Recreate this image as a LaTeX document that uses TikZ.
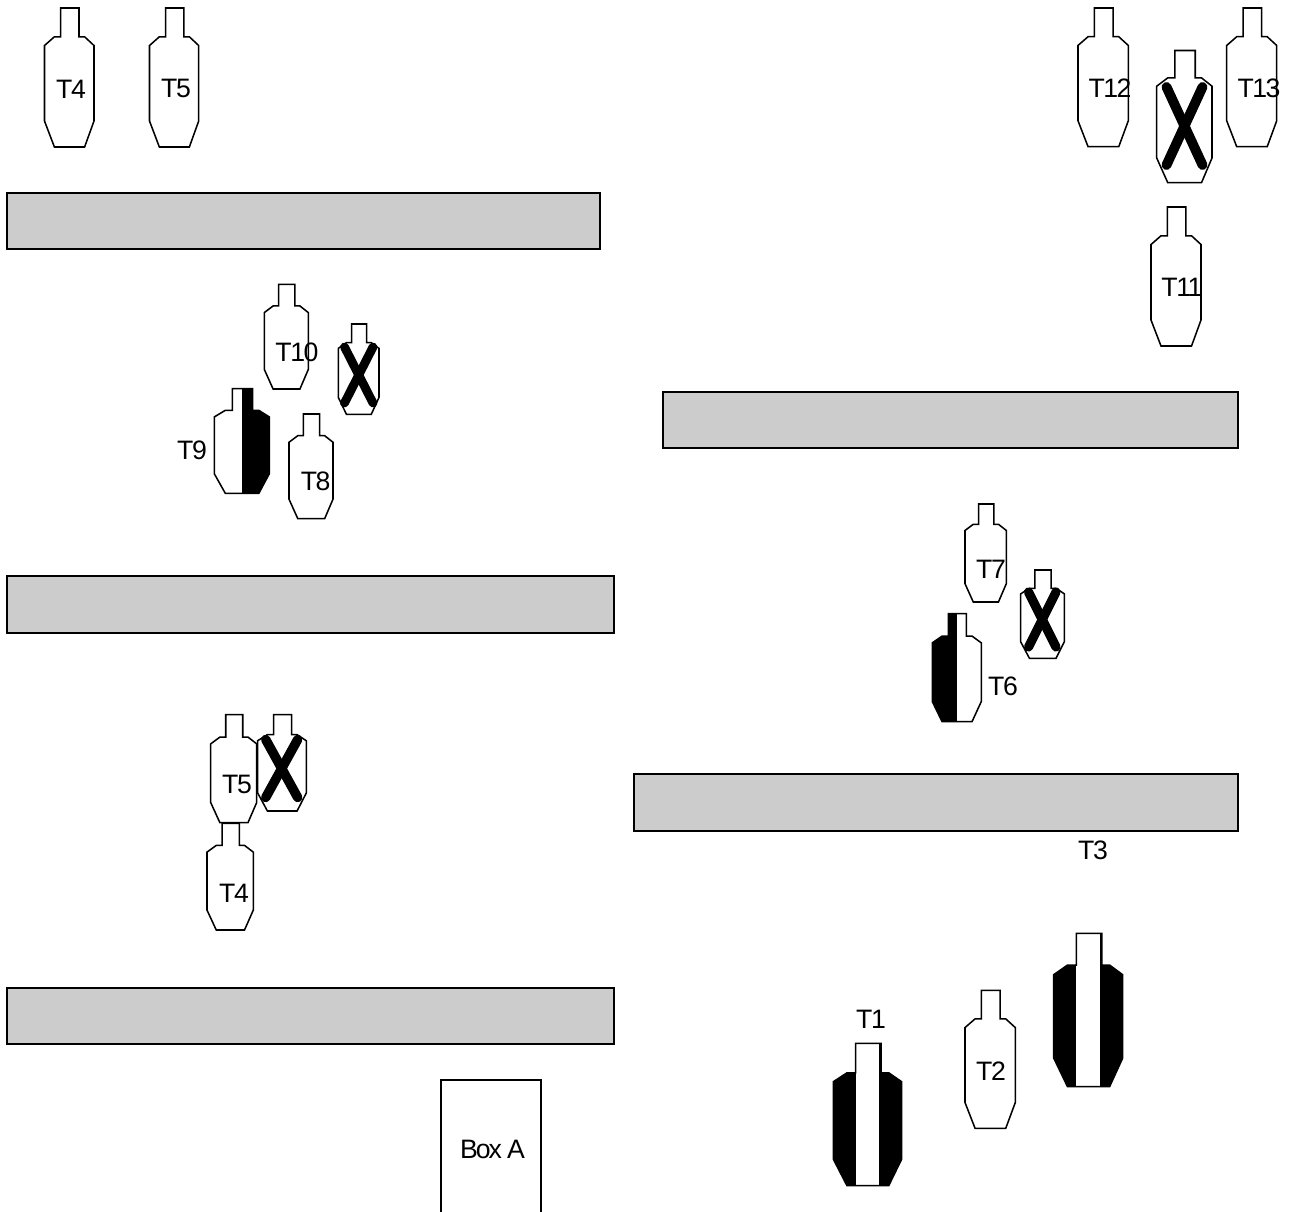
\documentclass[tikz,border=0pt]{standalone}
\usepackage{fontspec}
\setmainfont[LetterSpace=-5.5]{Liberation Sans}
\tikzset{
  outline/.style={draw=black,line width=1.15pt,line join=miter},
  bar/.style={draw=black,line width=1.05pt,fill=barGray},
  lbl/.style={inner sep=0pt,font=\fontsize{20}{20}\selectfont,text=black},
  cross/.style={line width=#1,line cap=round,draw=black},
}
\definecolor{barGray}{HTML}{CCCCCC}
\def\tgtshape{(.327,0) -- (.697,0) -- (.697,.207) -- (.81,.207) -- (1,.27) -- (1,.813) -- (.81,1) -- (.2,1) -- (0,.813) -- (0,.27) -- (.2,.207) -- (.327,.207) -- cycle}
% \tgt{x0}{y0}{x1}{y1}{drawing inside the clipped silhouette, unit-square coordinates}
\newcommand\tgt[5]{%
  \begin{scope}[shift={(#1,#2)},xscale=\fpeval{#3-#1},yscale=\fpeval{#4-#2}]
    \fill[white] \tgtshape;
    \begin{scope}\clip \tgtshape; #5\end{scope}
    \draw[outline] \tgtshape;
  \end{scope}}
\begin{document}
\begin{tikzpicture}[x=0.75pt,y=-0.75pt]
\useasboundingbox (0,0) rectangle (1292,1211);
\clip (0,0) rectangle (1292,1211);
% gray bars
\draw[bar] (7,193) rectangle (600,249);
\draw[bar] (663,392) rectangle (1238,448);
\draw[bar] (7,576) rectangle (614,633);
\draw[bar] (634,774) rectangle (1238,831);
\draw[bar] (7,988) rectangle (614,1044);
% Box A
\draw[outline] (441,1225) -- (441,1080) -- (541,1080) -- (541,1225);
\node[lbl] (boxa) at (492.5,1149) {\addfontfeature{LetterSpace=-8}Box A};
% top row
\tgt{44.5}{8}{94}{147}{}
\tgt{149.5}{8}{198.7}{147}{}
\node[lbl] (ta4) at (71,89) {T4};
\node[lbl] (ta5) at (176,88) {T5};
% top right
\tgt{1078}{8}{1128.3}{146.7}{}
\tgt{1226.7}{8}{1276.7}{146.7}{}
\tgt{1156.7}{50.5}{1212}{182.7}{}
\tgt{1151}{207}{1201}{346}{}
\draw[cross=7.4pt] (1166.5,87) -- (1202.5,165);
\draw[cross=7.4pt] (1202.5,87) -- (1166.5,165);
\node[lbl] (t12) at (1110,88) {T12};
\node[lbl] (t13) at (1259,88) {T13};
\node[lbl] (t11) at (1182,287) {T11};
% T8-T10 group
\tgt{264.3}{284.3}{308.3}{389}{}
\tgt{338.3}{324}{379}{414.3}{}
\tgt{214.3}{388.7}{269.3}{493.3}{\fill[black] (.505,-.05) rectangle (1.1,1.05);}
\tgt{289}{414}{333}{518.7}{}
\draw[cross=6.6pt] (344.5,347) -- (373,403);
\draw[cross=6.6pt] (373,347) -- (344.5,403);
\node[lbl] (t10) at (297,352) {T10};
\node[lbl] (t9) at (192,450) {T9};
\node[lbl] (t8) at (315.7,481) {T8};
% T6-T7 group
\tgt{965}{504}{1006.3}{602}{}
\tgt{1020.7}{570}{1064.3}{658.3}{}
\tgt{932.3}{613.7}{981.3}{721.7}{\fill[black] (-.1,-.05) rectangle (.5,1.05);}
\draw[cross=6.9pt] (1028.5,592) -- (1056,647);
\draw[cross=6.9pt] (1056,592) -- (1028.5,647);
\node[lbl] (t7) at (991,569) {T7};
\node[lbl] (t6) at (1003,686) {T6};
% T4-T5 group
\tgt{207}{823.3}{253.3}{930}{}
\tgt{210.7}{714.7}{256.7}{822.7}{}
\tgt{257.7}{714.7}{306.3}{811}{}
\draw[cross=7.1pt] (265.7,739.5) -- (297.7,797.5);
\draw[cross=7.1pt] (297.7,739.5) -- (265.7,797.5);
\node[lbl] (tb5) at (237,784) {T5};
\node[lbl] (tb4) at (234,893) {T4};
% T1-T3 group
\tgt{833.3}{1043.3}{901.7}{1185.7}{\fill[black] (-.1,-.05) rectangle (1.1,1.05); \fill[white] (.327,-.05) rectangle (.675,.993);}
\tgt{965}{990.3}{1015.3}{1128.3}{}
\tgt{1053.7}{933.3}{1122.7}{1086.7}{\fill[black] (-.1,-.05) rectangle (1.1,1.05); \fill[white] (.327,-.05) rectangle (.675,.993);}
\node[lbl] (t1) at (871,1019) {T1};
\node[lbl] (t2) at (991,1071) {T2};
\node[lbl] (t3) at (1093,850) {T3};
\end{tikzpicture}
\end{document}
